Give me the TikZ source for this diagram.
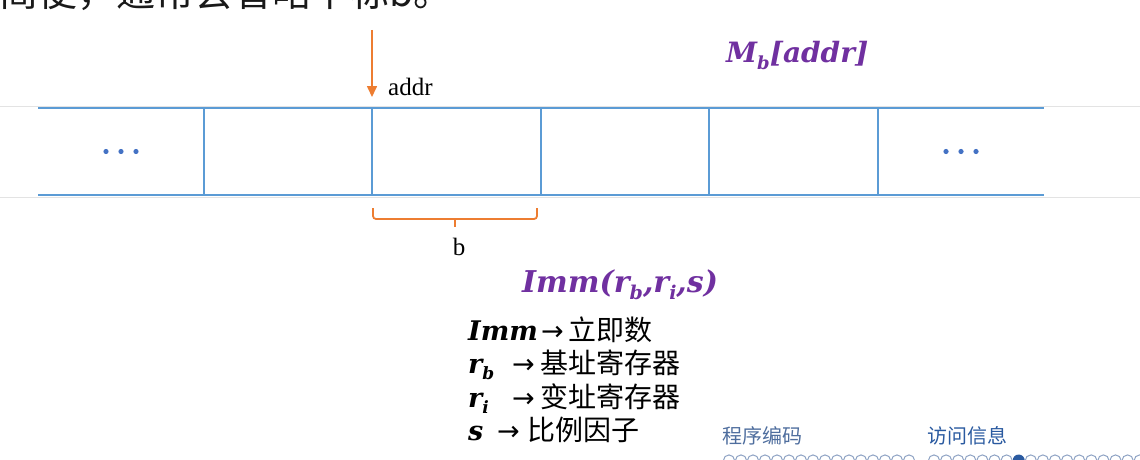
\documentclass[tikz,border=0pt]{standalone}
\usepackage{fontspec}
\setmainfont{Liberation Serif}
\newfontfamily\cjk{Noto Sans CJK SC}
\newfontfamily\bis{DejaVu Serif}
\newfontfamily\arr{DejaVu Sans}
\usetikzlibrary{arrows.meta}
\definecolor{cellblue}{HTML}{5B9BD5}
\definecolor{dotblue}{HTML}{4472C4}
\definecolor{addrorange}{HTML}{ED7D31}
\definecolor{mathpurple}{HTML}{7030A0}
\definecolor{navlight}{HTML}{4F6E9E}
\definecolor{navdark}{HTML}{2A5AA0}
\definecolor{navcircle}{HTML}{8FA3C4}
\definecolor{bggray}{HTML}{E3E3E3}
\newcommand\BI[1]{{\bis\bfseries\itshape #1}}
\newcommand\SB[2]{\raisebox{-0.24em}{\fontsize{#1}{#1}\selectfont #2}}
\newcommand\FS[1]{\fontsize{#1}{#1}\selectfont}
\begin{document}
\begin{tikzpicture}[x=1pt,y=-1pt,
  cell/.style={inner sep=0pt, outer sep=0pt, minimum height=87pt},
  cellline/.style={cellblue, line width=2.2pt},
  addrarrow/.style={addrorange, line width=1.6pt, -{Triangle[width=10pt,length=11pt]}, shorten >=11pt},
  bracepath/.style={addrorange, line width=1.8pt, rounded corners=3pt},
  lbl/.style={inner sep=0pt, anchor=base west},
  navcirc/.style={navcircle, line width=1pt}
]
\useasboundingbox (0,0) rectangle (1140,460);
\clip (0,0) rectangle (1140,460);
% cut-off line of text at the top
\node[lbl, text=black!90] (toptext) at (-1,7) {\cjk\FS{39pt}简便，通常会省略下标b。};
% faint background rules
\draw[bggray, line width=1pt] (0,106.5) -- (1140,106.5);
\draw[bggray, line width=1pt] (0,197.5) -- (1140,197.5);
% memory cells
\node[cell, minimum width=166pt] (c0) at (121,151.5) {};
\node[cell, minimum width=168pt] (c1) at (288,151.5) {};
\node[cell, minimum width=169pt] (c2) at (456.5,151.5) {};
\node[cell, minimum width=168pt] (c3) at (625,151.5) {};
\node[cell, minimum width=169pt] (c4) at (793.5,151.5) {};
\node[cell, minimum width=166pt] (c5) at (961,151.5) {};
\draw[cellline] (c0.north west) -- (c5.north east);
\draw[cellline] (c0.south west) -- (c5.south east);
\foreach \c in {c1,c2,c3,c4,c5} \draw[cellline] (\c.north west) -- (\c.south west);
\foreach \c in {c0,c5} \foreach \d in {-15,0,15} \fill[dotblue] ([xshift=\d pt]\c.center) circle (2.6pt);
% address arrow
\coordinate (atop) at (372,30);
\draw[addrarrow] (atop) -- (c2.north west);
\node[lbl] (addr) at (388,95) {\FS{25pt}addr};
% brace
\coordinate (bl) at (373,208);
\coordinate (bm) at (455,219);
\coordinate (br) at (537,208);
\draw[bracepath] (bl) |- (bm) -| (br);
\draw[bracepath] (bm) -- ++(0,8);
\node[inner sep=0pt, anchor=base] (blbl) at (459,255) {\FS{25pt}b};
% formulas
\node[lbl, text=mathpurple] (mb) at (726,63) {\FS{28pt}\BI{M\SB{18pt}{b}[addr]}};
\node[lbl, text=mathpurple] (imm) at (522,292) {\FS{30pt}\BI{Imm(r\SB{19pt}{b},r\SB{19pt}{i},s)}};
% legend
\node[lbl] (l1) at (468,340) {\FS{27pt}\makebox[73pt][l]{\BI{Imm}}\makebox[27pt][l]{\arr\FS{27pt}→}{\cjk\FS{28pt}立即数}};
\node[lbl] (l2) at (468,373) {\FS{27pt}\makebox[44pt][l]{\BI{r\SB{17pt}{b}}}\makebox[28pt][l]{\arr\FS{27pt}→}{\cjk\FS{28pt}基址寄存器}};
\node[lbl] (l3) at (468,407) {\FS{27pt}\makebox[44pt][l]{\BI{r\SB{17pt}{i}}}\makebox[28pt][l]{\arr\FS{27pt}→}{\cjk\FS{28pt}变址寄存器}};
\node[lbl] (l4) at (468,440) {\FS{27pt}\makebox[29pt][l]{\BI{s}}\makebox[30pt][l]{\arr\FS{27pt}→}{\cjk\FS{28pt}比例因子}};
% navigation bar
\node[lbl, text=navlight] (nav1) at (722,443) {\cjk\FS{20pt}程序编码};
\node[lbl, text=navdark] (nav2) at (927,443) {\cjk\FS{20pt}访问信息};
\foreach \i in {0,...,15} \draw[navcirc] (729+\i*12,460.5) circle (5.6pt);
\foreach \i in {0,...,17} {\ifnum\i=7 \fill[navdark] (934+\i*12.1,460.5) circle (6pt); \else \draw[navcirc] (934+\i*12.1,460.5) circle (5.6pt); \fi}
\end{tikzpicture}
\end{document}
